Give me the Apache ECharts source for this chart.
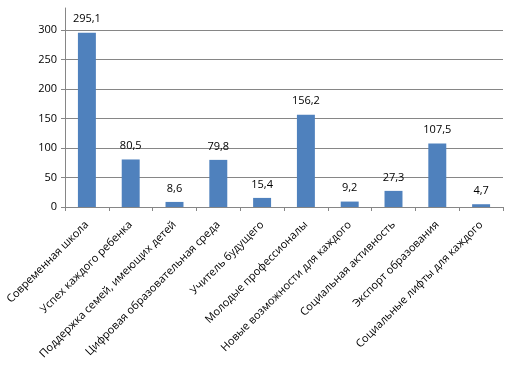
<!DOCTYPE html>
<html><head><meta charset="utf-8">
<script src="https://cdn.jsdelivr.net/npm/echarts@6/dist/echarts.min.js"></script>
<style>html,body{margin:0;padding:0;background:#fff}#c{width:505px;height:372px}</style>
</head><body><div id="c"></div>
<script>
const categories = ["Современная школа","Успех каждого ребенка","Поддержка семей, имеющих детей","Цифровая образовательная среда","Учитель будущего","Молодые профессионалы","Новые возможности для каждого","Социальная активность","Экспорт образования","Социальные лифты для каждого"];
const values = [295.1, 80.5, 8.6, 79.8, 15.4, 156.2, 9.2, 27.3, 107.5, 4.7];
const yTicks = [0, 50, 100, 150, 200, 250, 300];

const chart = echarts.init(document.getElementById('c'));
const font = "'Open Sans', 'Liberation Sans', Arial, sans-serif";
chart.setOption({
  animation: false,
  grid: {left: 65, right: 2, top: 8, bottom: 165, containLabel: false},
  xAxis: {
    type: 'category', data: categories, boundaryGap: true,
    axisLine: {lineStyle: {color: '#868686', width: 1}},
    axisTick: {show: true, length: 4, alignWithLabel: false, lineStyle: {color: '#868686'}},
    axisLabel: {rotate: 45, interval: 0, color: '#000', fontSize: 11, fontFamily: font, margin: 16}
  },
  yAxis: {
    type: 'value', min: 0, max: 337, interval: 50,
    axisLine: {show: true, lineStyle: {color: '#868686'}},
    axisTick: {show: true, length: 4, lineStyle: {color: '#868686'}},
    axisLabel: {color: '#000', fontSize: 11, fontFamily: font, margin: 8, showMaxLabel: false,
      formatter: v => yTicks.includes(v) ? String(v) : ''},
    splitLine: {show: true, showMaxLine: false, lineStyle: {color: '#868686', width: 1}}
  },
  series: [{
    type: 'bar', data: values, barWidth: '41%',
    itemStyle: {color: '#4F81BD'},
    label: {show: true, position: 'top', distance: 8, color: '#000', fontSize: 11, fontFamily: font,
      formatter: p => String(p.value).replace('.', ',')}
  }]
});
</script></body></html>
